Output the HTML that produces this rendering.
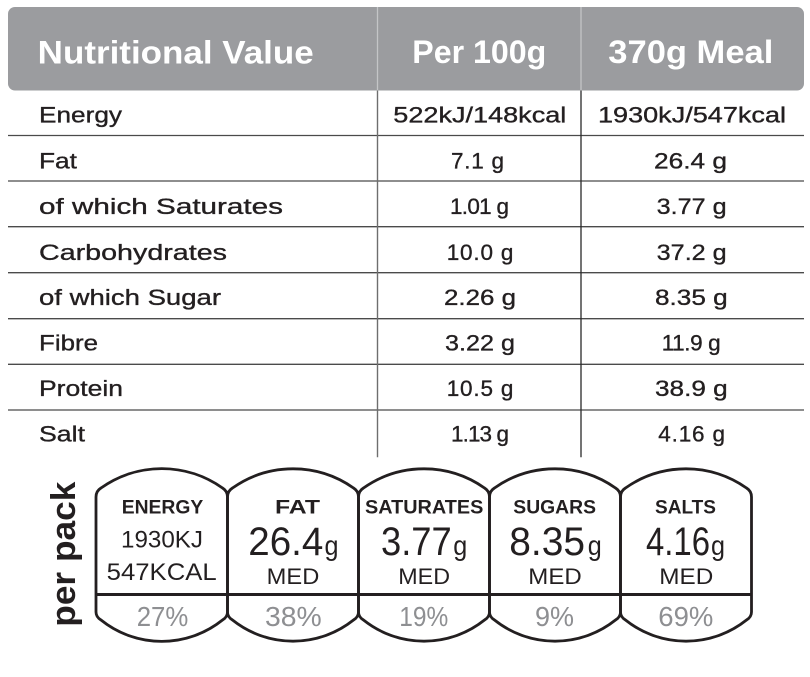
<!DOCTYPE html>
<html>
<head>
<meta charset="utf-8">
<style>
  html, body { margin:0; padding:0; background:#ffffff; }
  body { width:810px; height:677px; overflow:hidden; }
  svg { display:block; }
  .t { font-family:"Liberation Sans", Arial, sans-serif; fill:#231f20; }
  .row { font-size:22.5px; stroke:#231f20; stroke-width:0.35px; }
  .hd { font-size:32px; font-weight:bold; fill:#ffffff; }
  .lab { font-size:19.5px; font-weight:bold; }
  .num { font-size:40px; }
  .g { font-size:28px; }
  .med { font-size:22px; }
  .kj { font-size:24px; }
  .pct { font-size:28px; fill:#8e8f92; }
</style>
</head>
<body>
<svg width="810" height="677" viewBox="0 0 810 677" xmlns="http://www.w3.org/2000/svg">
  <!-- Header -->
  <rect x="8" y="7" width="796" height="83.5" rx="7" ry="7" fill="#9b9c9f"/>
  <line x1="377.5" y1="7" x2="377.5" y2="90.5" stroke="#c4c5c7" stroke-width="1.3"/>
  <line x1="581" y1="7" x2="581" y2="90.5" stroke="#c4c5c7" stroke-width="1.3"/>
  <text class="t hd" x="37.7" y="63.3" textLength="276" lengthAdjust="spacingAndGlyphs">Nutritional Value</text>
  <text class="t hd" x="412.3" y="63" textLength="134" lengthAdjust="spacingAndGlyphs">Per 100g</text>
  <text class="t hd" x="608.3" y="63" textLength="165" lengthAdjust="spacingAndGlyphs">370g Meal</text>

  <!-- Row lines -->
  <g stroke="#4a4a4a" stroke-width="1.3">
    <line x1="8" y1="135.5" x2="804" y2="135.5"/>
    <line x1="8" y1="181" x2="804" y2="181"/>
    <line x1="8" y1="226.7" x2="804" y2="226.7"/>
    <line x1="8" y1="272.7" x2="804" y2="272.7"/>
    <line x1="8" y1="318.7" x2="804" y2="318.7"/>
    <line x1="8" y1="364.3" x2="804" y2="364.3"/>
    <line x1="8" y1="410" x2="804" y2="410"/>
  </g>
  <line x1="377.5" y1="90.5" x2="377.5" y2="457.3" stroke="#6e6e6e" stroke-width="1.4"/>
  <line x1="581" y1="90.5" x2="581" y2="457.3" stroke="#2a2a2a" stroke-width="1.3"/>

  <!-- Labels -->
  <g class="t row">
    <text x="39" y="122.7" textLength="83" lengthAdjust="spacingAndGlyphs">Energy</text>
    <text x="39" y="168.3" textLength="38" lengthAdjust="spacingAndGlyphs">Fat</text>
    <text x="39" y="214" textLength="244" lengthAdjust="spacingAndGlyphs">of which Saturates</text>
    <text x="39" y="260" textLength="188" lengthAdjust="spacingAndGlyphs">Carbohydrates</text>
    <text x="39" y="305" textLength="182" lengthAdjust="spacingAndGlyphs">of which Sugar</text>
    <text x="39" y="350.5" textLength="59" lengthAdjust="spacingAndGlyphs">Fibre</text>
    <text x="39" y="396" textLength="84" lengthAdjust="spacingAndGlyphs">Protein</text>
    <text x="39" y="441.5" textLength="46" lengthAdjust="spacingAndGlyphs">Salt</text>

    <text x="393.3" y="122.7" textLength="173" lengthAdjust="spacingAndGlyphs">522kJ/148kcal</text>
    <text x="451" y="168.3" textLength="53" lengthAdjust="spacing">7.1 g</text>
    <text x="450" y="214" textLength="59" lengthAdjust="spacing">1.01 g</text>
    <text x="446.7" y="260" textLength="66.7" lengthAdjust="spacing">10.0 g</text>
    <text x="444" y="305" textLength="72" lengthAdjust="spacingAndGlyphs">2.26 g</text>
    <text x="445" y="350.5" textLength="70" lengthAdjust="spacingAndGlyphs">3.22 g</text>
    <text x="446.7" y="396" textLength="66.7" lengthAdjust="spacing">10.5 g</text>
    <text x="451" y="441.5" textLength="58" lengthAdjust="spacing">1.13 g</text>

    <text x="598" y="122.7" textLength="188" lengthAdjust="spacingAndGlyphs">1930kJ/547kcal</text>
    <text x="654" y="168.3" textLength="73" lengthAdjust="spacingAndGlyphs">26.4 g</text>
    <text x="656.7" y="214" textLength="70" lengthAdjust="spacingAndGlyphs">3.77 g</text>
    <text x="656.7" y="260" textLength="70" lengthAdjust="spacingAndGlyphs">37.2 g</text>
    <text x="655" y="305" textLength="72.7" lengthAdjust="spacingAndGlyphs">8.35 g</text>
    <text x="661.7" y="350.5" textLength="59" lengthAdjust="spacing">11.9 g</text>
    <text x="655" y="396" textLength="72.7" lengthAdjust="spacingAndGlyphs">38.9 g</text>
    <text x="658.3" y="441.5" textLength="66.7" lengthAdjust="spacing">4.16 g</text>
  </g>

  <!-- per pack -->
  <text class="t" transform="translate(74.8,626.7) rotate(-90)" x="0" y="0" font-size="34" font-weight="bold" textLength="145" lengthAdjust="spacingAndGlyphs">per pack</text>

  <!-- Traffic light shapes -->
  <g fill="none" stroke="#231f20" stroke-width="2.8" stroke-linejoin="round">
    <path d="M96,612 L96,497 Q96,491 101,488 A105 105 0 0 1 222.5,488 Q227.5,491 227.5,497 L227.5,612 Q227.5,617 222.5,620 A97 97 0 0 1 101,620 Q96,617 96,612 Z"/>
    <path d="M227.5,612 L227.5,497 Q227.5,491 232.5,488 A105 105 0 0 1 353.5,488 Q358.5,491 358.5,497 L358.5,612 Q358.5,617 353.5,620 A97 97 0 0 1 232.5,620 Q227.5,617 227.5,612 Z"/>
    <path d="M358.5,612 L358.5,497 Q358.5,491 363.5,488 A105 105 0 0 1 484.5,488 Q489.5,491 489.5,497 L489.5,612 Q489.5,617 484.5,620 A97 97 0 0 1 363.5,620 Q358.5,617 358.5,612 Z"/>
    <path d="M489.5,612 L489.5,497 Q489.5,491 494.5,488 A105 105 0 0 1 615.5,488 Q620.5,491 620.5,497 L620.5,612 Q620.5,617 615.5,620 A97 97 0 0 1 494.5,620 Q489.5,617 489.5,612 Z"/>
    <path d="M620.5,612 L620.5,497 Q620.5,491 625.5,488 A105 105 0 0 1 746.5,488 Q751.5,491 751.5,497 L751.5,612 Q751.5,617 746.5,620 A97 97 0 0 1 625.5,620 Q620.5,617 620.5,612 Z"/>
    <line x1="96" y1="594.5" x2="751.5" y2="594.5" stroke-width="3"/>
  </g>

  <!-- Energy -->
  <text class="t lab" x="121.7" y="513.3" textLength="81.6" lengthAdjust="spacingAndGlyphs">ENERGY</text>
  <text class="t kj" x="121" y="547.3" textLength="82" lengthAdjust="spacingAndGlyphs">1930KJ</text>
  <text class="t kj" x="106.7" y="580" textLength="110" lengthAdjust="spacingAndGlyphs">547KCAL</text>
  <text class="t pct" x="136.7" y="626" textLength="51.6" lengthAdjust="spacingAndGlyphs">27%</text>

  <!-- Fat -->
  <text class="t lab" x="275" y="513.3" textLength="45" lengthAdjust="spacingAndGlyphs">FAT</text>
  <text class="t num" x="248.3" y="555" textLength="75" lengthAdjust="spacingAndGlyphs">26.4</text>
  <text class="t g" x="324.5" y="555" textLength="14" lengthAdjust="spacingAndGlyphs">g</text>
  <text class="t med" x="266.7" y="584" textLength="52.6" lengthAdjust="spacingAndGlyphs">MED</text>
  <text class="t pct" x="265" y="626" textLength="56.7" lengthAdjust="spacingAndGlyphs">38%</text>

  <!-- Saturates -->
  <text class="t lab" x="365" y="513.3" textLength="118.3" lengthAdjust="spacingAndGlyphs">SATURATES</text>
  <text class="t num" x="381" y="555" textLength="70.7" lengthAdjust="spacingAndGlyphs">3.77</text>
  <text class="t g" x="453.3" y="555" textLength="14" lengthAdjust="spacingAndGlyphs">g</text>
  <text class="t med" x="398.3" y="584" textLength="51.7" lengthAdjust="spacingAndGlyphs">MED</text>
  <text class="t pct" x="399.3" y="626" textLength="49" lengthAdjust="spacingAndGlyphs">19%</text>

  <!-- Sugars -->
  <text class="t lab" x="513.3" y="513.3" textLength="82.7" lengthAdjust="spacingAndGlyphs">SUGARS</text>
  <text class="t num" x="509.3" y="555" textLength="75.7" lengthAdjust="spacingAndGlyphs">8.35</text>
  <text class="t g" x="587.7" y="555" textLength="14" lengthAdjust="spacingAndGlyphs">g</text>
  <text class="t med" x="528.3" y="584" textLength="53.4" lengthAdjust="spacingAndGlyphs">MED</text>
  <text class="t pct" x="535" y="626" textLength="39" lengthAdjust="spacingAndGlyphs">9%</text>

  <!-- Salts -->
  <text class="t lab" x="655" y="513.3" textLength="61" lengthAdjust="spacingAndGlyphs">SALTS</text>
  <text class="t num" x="646" y="555" textLength="64" lengthAdjust="spacingAndGlyphs">4.16</text>
  <text class="t g" x="711" y="555" textLength="14" lengthAdjust="spacingAndGlyphs">g</text>
  <text class="t med" x="659.3" y="584" textLength="54" lengthAdjust="spacingAndGlyphs">MED</text>
  <text class="t pct" x="658.3" y="626" textLength="55" lengthAdjust="spacingAndGlyphs">69%</text>
</svg>
</body>
</html>
